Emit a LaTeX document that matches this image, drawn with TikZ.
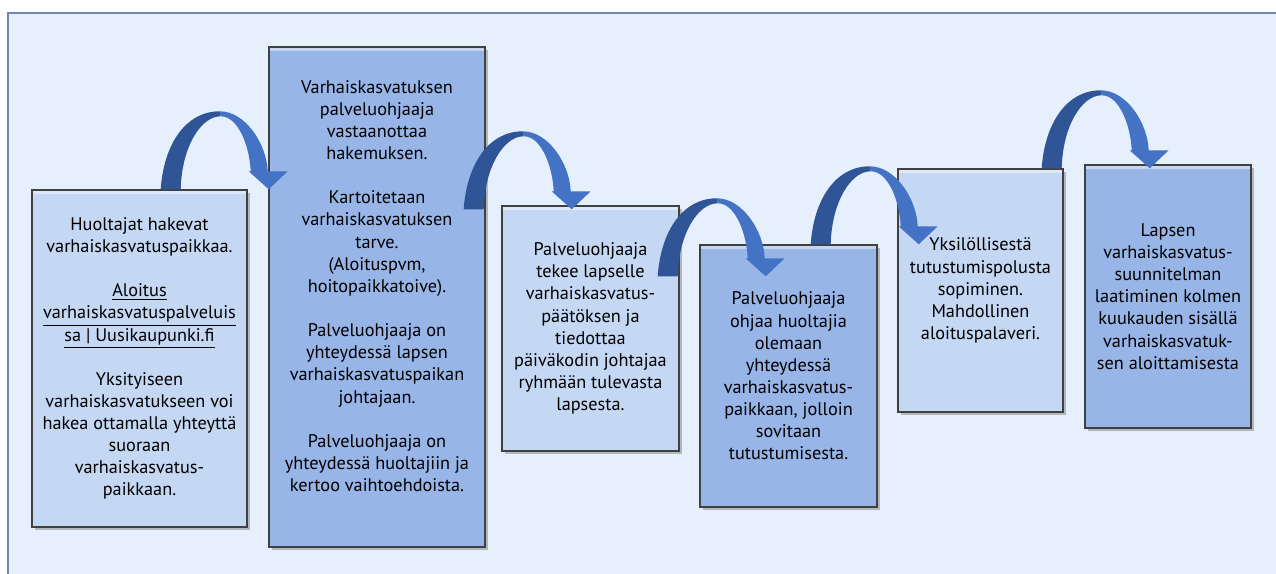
\documentclass[tikz,border=0pt]{standalone}
\usepackage{fontspec}
\setmainfont{PT Sans}
\usetikzlibrary{positioning, calc, shadows}

\definecolor{bgblue}{RGB}{230,239,252}
\definecolor{framegray}{RGB}{112,134,175}
\definecolor{boxlight}{RGB}{196,215,243}
\definecolor{boxmid}{RGB}{152,181,231}
\definecolor{arrowdark}{RGB}{47,85,151}
\definecolor{arrowlight}{RGB}{68,114,196}

% curved step arrow, #1 = foot of the shaft
\newcommand{\hoparrow}[1]{%
	\begin{scope}[shift={(#1)}]
		\fill[arrowdark] (-10,0) .. controls (-7,-45) and (15,-78) .. (49,-78)
			-- (50,-73) .. controls (30,-73) and (11,-42) .. (10,0) -- cycle;
		\fill[arrowlight] (49,-78) .. controls (75,-78) and (96,-45) .. (97,-18)
			-- (117,-18) -- (98,0) -- (78,-18) -- (80,-18)
			.. controls (79,-42) and (68,-73) .. (50,-73) -- cycle;
	\end{scope}}

\begin{document}
\begin{tikzpicture}[x={(0.02cm,0)}, y={(0,-0.02cm)},
	stepbox/.style={rectangle, draw=black!75, line width=0.8pt, align=center,
		font=\fontsize{10.4}{12.6}\selectfont,
		drop shadow={opacity=0.5, shadow xshift=1.5pt, shadow yshift=-1.5pt},
		path picture={\fill[white, opacity=0.45] (path picture bounding box.north west)
			rectangle ([yshift=-2pt]path picture bounding box.north east);}},
	lightbox/.style={stepbox, fill=boxlight},
	midbox/.style={stepbox, fill=boxmid},
	boxsize/.style 2 args={minimum width={#1*0.02cm}, minimum height={#2*0.02cm}}]
				\useasboundingbox (0,0) rectangle (1276,574);
				\clip (0,0) rectangle (1276,574);
				\fill[white] (0,0) rectangle (1276,574);
				\fill[bgblue] (8,13) rectangle (1290,590);
				\draw[framegray, line width=1.1pt] (1290,13) -- (8,13) -- (8,590);
				
				\node [lightbox, boxsize={215}{337}] (b1) at (139.5,358.5)
					{Huoltajat hakevat\\varhaiskasvatuspaikkaa.\\[12.6pt]
					\underline{Aloitus}\\\underline{varhaiskasvatuspalveluis}\\\underline{sa | Uusikaupunki.fi}\\[12.6pt]
					Yksityiseen\\varhaiskasvatukseen voi\\hakea ottamalla yhteyttä\\suoraan\\varhaiskasvatus-\\paikkaan.};
				\node [midbox, boxsize={216}{500}] (b2) at (377,297)
					{Varhaiskasvatuksen\\palveluohjaaja\\vastaanottaa\\hakemuksen.\\[12.6pt]
					Kartoitetaan\\varhaiskasvatuksen\\tarve.\\(Aloituspvm,\\hoitopaikkatoive).\\[12.6pt]
					Palveluohjaaja on\\yhteydessä lapsen\\varhaiskasvatuspaikan\\johtajaan.\\[12.6pt]
					Palveluohjaaja on\\yhteydessä huoltajiin ja\\kertoo vaihtoehdoista.\\\mbox{}};
				\node [lightbox, boxsize={177}{245}] (b3) at (590.5,328.5)
					{Palveluohjaaja\\tekee lapselle\\varhaiskasvatus-\\päätöksen ja\\tiedottaa\\päiväkodin johtajaa\\ryhmään tulevasta\\lapsesta.};
				\node [midbox, boxsize={177}{262}] (b4) at (788.5,376)
					{Palveluohjaaja\\ohjaa huoltajia\\olemaan\\yhteydessä\\varhaiskasvatus-\\paikkaan, jolloin\\sovitaan\\tutustumisesta.};
				\node [lightbox, boxsize={165}{243}] (b5) at (980.5,290.5)
					{Yksilöllisestä\\tutustumispolusta\\sopiminen.\\Mahdollinen\\aloituspalaveri.};
				\node [midbox, boxsize={166}{263}] (b6) at (1168,296.5)
					{Lapsen\\varhaiskasvatus-\\suunnitelman\\laatiminen kolmen\\kuukauden sisällä\\varhaiskasvatuk-\\sen aloittamisesta};
				
				\hoparrow{$(b1.north east)+(-77,0)$}
				\hoparrow{$(b2.north east)+(-12,163)$}
				\hoparrow{$(b3.north east)+(-12,71)$}
				\hoparrow{$(b4.north east)+(-57,0)$}
				\hoparrow{$(b5.north east)+(-12,0)$}
			\end{tikzpicture}
\end{document}
